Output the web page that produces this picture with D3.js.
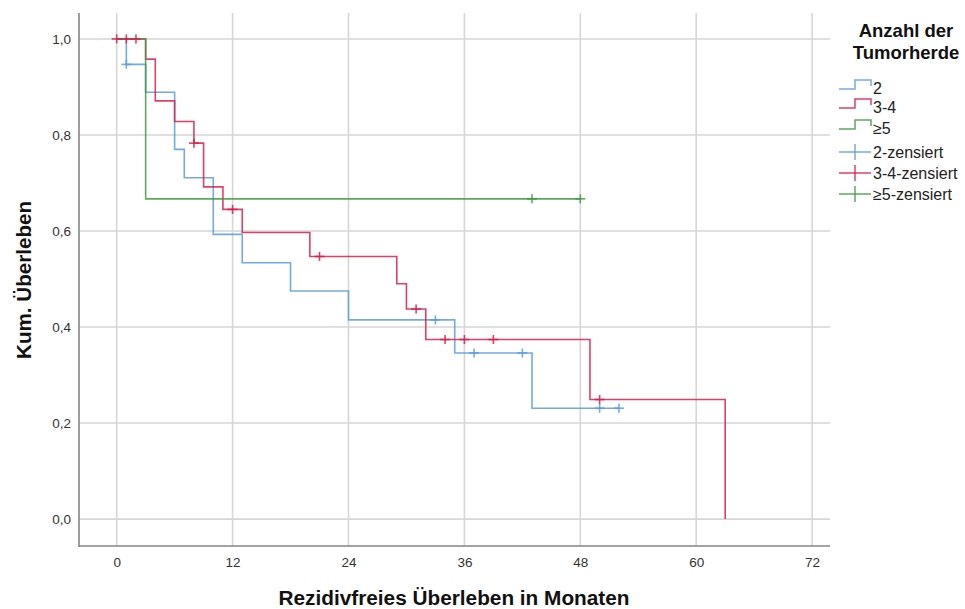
<!DOCTYPE html>
<html>
<head>
<meta charset="utf-8">
<script src="https://cdn.jsdelivr.net/npm/d3@7"></script>
<style>
  html, body { margin: 0; padding: 0; background: #fff; }
  svg { display: block; font-family: "Liberation Sans", Arial, sans-serif; }
</style>
</head>
<body>
<svg id="chart" width="965" height="609"></svg>
<script>
// Kaplan-Meier estimates: step times (months) and cumulative survival after each step
const groupNames = ["2", "3-4", "≥5"];
const colors = ["#5a9be0", "#d81f4b", "#3f9a3f"];

const times2 = [0, 1, 3, 6, 7, 10, 13, 18, 24, 35, 43];
const surv2 = [1, 0.947, 0.889, 0.770, 0.711, 0.593, 0.534, 0.475, 0.415, 0.346, 0.231];
const end2 = 52;
const censor2 = [1, 33, 37, 42, 50, 52];

const times34 = [0, 3, 4, 6, 8, 9, 11, 13, 20, 29, 30, 32, 49, 63];
const surv34 = [1, 0.958, 0.871, 0.828, 0.783, 0.692, 0.645, 0.597, 0.547, 0.490, 0.4375, 0.374, 0.249, 0];
const end34 = 63;
const censor34 = [0, 1, 2, 8, 12, 21, 31, 34, 36, 39, 50];

const times5 = [0, 3];
const surv5 = [1, 0.667];
const end5 = 48;
const censor5 = [43, 48];

const xTicks = [0, 12, 24, 36, 48, 60, 72];
const yTicks = [0, 0.2, 0.4, 0.6, 0.8, 1.0];

const xTitle = "Rezidivfreies Überleben in Monaten";
const yTitle = "Kum. Überleben";
const legendTitle = ["Anzahl der", "Tumorherde"];
const censorSuffix = "-zensiert";

const groups = [
  { name: groupNames[0], times: times2, surv: surv2, end: end2, censor: censor2, color: colors[0] },
  { name: groupNames[1], times: times34, surv: surv34, end: end34, censor: censor34, color: colors[1] },
  { name: groupNames[2], times: times5, surv: surv5, end: end5, censor: censor5, color: colors[2] }
];

const svg = d3.select("#chart");
const plot = { left: 79, right: 830, top: 13, bottom: 546 };

const x = d3.scaleLinear().domain([-3.9, 73.85]).range([plot.left, plot.right]);
const y = d3.scaleLinear().domain([-0.056, 1.054]).range([plot.bottom, plot.top]);

const locale = d3.formatLocale({ decimal: ",", thousands: ".", grouping: [3], currency: ["", " €"] });
const fmtY = locale.format(".1f");

// grid
const grid = svg.append("g").attr("stroke", "#d6d6d6").attr("stroke-width", 1.6);
grid.selectAll("line.v").data(xTicks).join("line")
  .attr("x1", d => x(d)).attr("x2", d => x(d))
  .attr("y1", plot.top).attr("y2", plot.bottom);
grid.selectAll("line.h").data(yTicks).join("line")
  .attr("x1", plot.left).attr("x2", plot.right)
  .attr("y1", d => y(d)).attr("y2", d => y(d));

// axes (labels only; lines drawn separately)
const xAxis = svg.append("g").attr("transform", `translate(0,${plot.bottom})`)
  .call(d3.axisBottom(x).tickValues(xTicks).tickSize(0).tickPadding(11));
const yAxis = svg.append("g").attr("transform", `translate(${plot.left},0)`)
  .call(d3.axisLeft(y).tickValues(yTicks).tickSize(0).tickPadding(8).tickFormat(fmtY));
[xAxis, yAxis].forEach(a => {
  a.select(".domain").remove();
  a.selectAll("text").attr("font-size", 13.5).attr("fill", "#333")
    .attr("font-family", "'Liberation Sans', Arial, sans-serif");
});

svg.append("line").attr("x1", plot.left).attr("x2", plot.left)
  .attr("y1", plot.top).attr("y2", plot.bottom + 1)
  .attr("stroke", "#858585").attr("stroke-width", 1.6);
svg.append("line").attr("x1", plot.left).attr("x2", plot.right)
  .attr("y1", plot.bottom).attr("y2", plot.bottom)
  .attr("stroke", "#858585").attr("stroke-width", 1.6);

// survival curves
const line = d3.line().curve(d3.curveStepAfter).x(d => x(d[0])).y(d => y(d[1]));
const curves = svg.append("g").attr("fill", "none").attr("stroke-width", 1.6);
groups.forEach(g => {
  const pts = g.times.map((t, i) => [t, g.surv[i]]);
  const last = g.surv[g.surv.length - 1];
  if (g.end > g.times[g.times.length - 1]) pts.push([g.end, last]);
  g.stepAt = t => {
    let v = g.surv[0];
    g.times.forEach((tt, i) => { if (tt <= t) v = g.surv[i]; });
    return v;
  };
  curves.append("path").attr("d", line(pts)).attr("stroke", g.color).attr("stroke-opacity", 0.85);
});

// censored observations
const marks = svg.append("g").attr("stroke-width", 1.6);
groups.forEach(g => {
  g.censor.forEach(t => {
    const cx = x(t), cy = y(g.stepAt(t));
    marks.append("line").attr("x1", cx - 5).attr("x2", cx + 5).attr("y1", cy).attr("y2", cy)
      .attr("stroke", g.color).attr("stroke-opacity", 0.85);
    marks.append("line").attr("x1", cx).attr("x2", cx).attr("y1", cy - 4.5).attr("y2", cy + 4.5)
      .attr("stroke", g.color).attr("stroke-opacity", 0.85);
  });
});

// axis titles
svg.append("text").attr("x", 454).attr("y", 605).attr("text-anchor", "middle")
  .attr("font-size", 19.5).attr("font-weight", "bold").attr("fill", "#111")
  .attr("textLength", 351).attr("lengthAdjust", "spacingAndGlyphs").text(xTitle);
svg.append("text").attr("transform", "translate(31,280) rotate(-90)").attr("text-anchor", "middle")
  .attr("font-size", 19.5).attr("font-weight", "bold").attr("fill", "#111")
  .attr("textLength", 158).attr("lengthAdjust", "spacingAndGlyphs").text(yTitle);

// legend
const lg = svg.append("g");
legendTitle.forEach((t, i) => {
  lg.append("text").attr("x", 906).attr("y", 37 + i * 22).attr("text-anchor", "middle")
    .attr("font-size", 18.5).attr("font-weight", "bold").attr("fill", "#111").text(t);
});
const itemY = [88, 107, 128, 152, 173, 194];
const ix0 = 839, ix1 = 871;
groups.forEach((g, i) => {
  const cy = itemY[i];
  lg.append("path")
    .attr("d", `M${ix0},${cy + 1}H${ix0 + 16}V${cy - 8}H${ix1}V${cy - 2}`)
    .attr("fill", "none").attr("stroke", g.color).attr("stroke-width", 1.5).attr("stroke-opacity", 0.85);
  lg.append("text").attr("x", 873).attr("y", cy).attr("dy", "0.35em")
    .attr("font-size", 16).attr("fill", "#222").text(g.name);
});
groups.forEach((g, i) => {
  const cy = itemY[3 + i];
  lg.append("line").attr("x1", ix0).attr("x2", ix1).attr("y1", cy).attr("y2", cy)
    .attr("stroke", g.color).attr("stroke-width", 1.5).attr("stroke-opacity", 0.85);
  lg.append("line").attr("x1", (ix0 + ix1) / 2).attr("x2", (ix0 + ix1) / 2)
    .attr("y1", cy - 8).attr("y2", cy + 8)
    .attr("stroke", g.color).attr("stroke-width", 1.5).attr("stroke-opacity", 0.85);
  lg.append("text").attr("x", 873).attr("y", cy).attr("dy", "0.35em")
    .attr("font-size", 16).attr("fill", "#222").text(g.name + censorSuffix);
});
</script>
</body>
</html>
